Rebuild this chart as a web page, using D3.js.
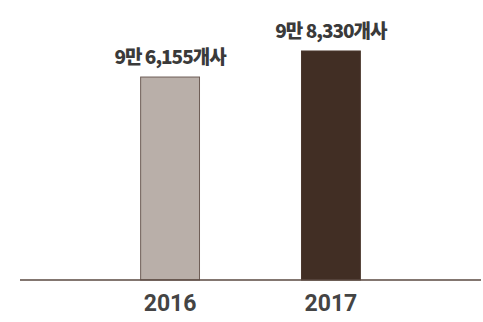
<!DOCTYPE html>
<html><head><meta charset="utf-8">
<script src="https://cdn.jsdelivr.net/npm/d3@7"></script>
<style>
html,body{margin:0;padding:0;background:#fff;}
svg{display:block;}
</style></head>
<body>
<svg id="chart" width="483" height="322"></svg>
<script>
const years = ["2016", "2017"];
const values = [96155, 98330];
const valueLabels = ["9만 6,155개사", "9만 8,330개사"];
const fills = ["#b9afa9", "#412e24"];
const strokes = ["#6e5e57", "#4a372d"];

const svg = d3.select("#chart");
const x = d3.scaleBand().domain(years).range([20, 481]).paddingInner(0.634).paddingOuter(0.75);
const y = d3.scaleLinear().domain([79200, 100000]).range([280, 31]);

svg.selectAll("rect.bar").data(years).enter().append("rect")
  .attr("class", "bar")
  .attr("x", d => x(d))
  .attr("width", x.bandwidth())
  .attr("y", (d, i) => y(values[i]))
  .attr("height", (d, i) => y.range()[0] - y(values[i]))
  .attr("fill", (d, i) => fills[i])
  .attr("stroke", (d, i) => strokes[i])
  .attr("stroke-width", 1);

svg.append("line")
  .attr("x1", 20).attr("x2", 481)
  .attr("y1", 280).attr("y2", 280)
  .attr("stroke", "#5a4840").attr("stroke-width", 1.5);

svg.selectAll("text.val").data(years).enter().append("text")
  .attr("class", "val")
  .attr("x", d => x(d) + x.bandwidth() / 2)
  .attr("y", (d, i) => y(values[i]) - 13)
  .attr("text-anchor", "middle")
  .attr("font-family", "'Noto Sans CJK KR', 'Noto Sans', sans-serif")
  .attr("font-weight", 900)
  .attr("font-size", 19)
  .attr("letter-spacing", -1)
  .attr("fill", "#3a3a3a")
  .text((d, i) => valueLabels[i]);

const xAxis = d3.axisBottom(x).tickSize(0).tickPadding(0);
const gx = svg.append("g").attr("transform", "translate(0,280)").call(xAxis);
gx.select(".domain").remove();
gx.selectAll("text")
  .attr("dy", null)
  .attr("y", 31)
  .attr("font-family", "Roboto, 'Noto Sans', sans-serif")
  .attr("font-weight", "bold")
  .attr("font-size", 23)
  .attr("fill", "#444");
</script>
</body></html>
